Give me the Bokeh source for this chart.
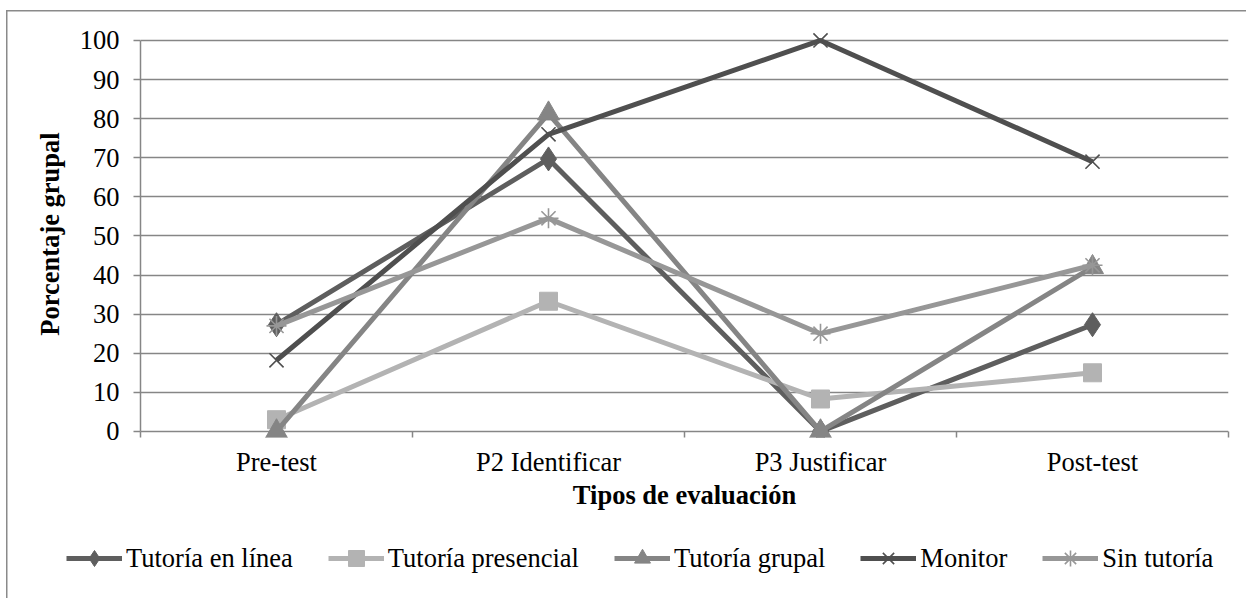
from bokeh.plotting import figure
from bokeh.layouts import column
from bokeh.models import FixedTicker, Legend, LegendItem, Range1d
from bokeh.embed import file_html
from bokeh.resources import INLINE

categories = ["Pre-test", "P2 Identificar", "P3 Justificar", "Post-test"]
tutoria_en_linea = [27.3, 69.7, 0, 27.3]
tutoria_presencial = [3.0, 33.3, 8.3, 15.0]
tutoria_grupal = [0, 81.3, 0, 42.0]
monitor = [18.2, 76.0, 100, 69.0]
sin_tutoria = [27.0, 54.5, 25.0, 42.5]
y_ticks = [0, 10, 20, 30, 40, 50, 60, 70, 80, 90, 100]

series = [
    ("Tutoría en línea", tutoria_en_linea, "#5e5e5e", "diamond", 24),
    ("Tutoría presencial", tutoria_presencial, "#b3b3b3", "square", 18),
    ("Tutoría grupal", tutoria_grupal, "#858585", "triangle", 22),
    ("Monitor", monitor, "#4f4f4f", "x", 20),
    ("Sin tutoría", sin_tutoria, "#979797", "asterisk", 20),
]

FONT = "Liberation Serif"
FS = "26.5px"
W = 1246

p = figure(width=W, height=518, output_backend="svg", toolbar_location=None,
           x_range=Range1d(0, len(categories)), y_range=Range1d(-1.55, 102.55),
           min_border_left=140, min_border_right=18, min_border_top=30,
           min_border_bottom=81)
p.frame_align = False
p.background_fill_color = "white"
p.border_fill_color = None
p.outline_line_color = None

xs = [i + 0.5 for i in range(len(categories))]


def draw(fig, xv, yv, color, marker, size):
    r1 = fig.line(xv, yv, line_color=color, line_width=5)
    if marker in ("x", "asterisk"):
        r2 = fig.scatter(xv, yv, marker=marker, size=size, line_color=color, line_width=1.6)
    else:
        r2 = fig.scatter(xv, yv, marker=marker, size=size, fill_color=color, line_color=color)
    return r1, r2


for name, vals, color, marker, size in series:
    draw(p, xs, vals, color, marker, size)

# x axis: the zero grid line acts as its line; boundary ticks reach down from it
p.xaxis.ticker = FixedTicker(ticks=xs, minor_ticks=list(range(len(categories) + 1)))
p.xaxis.major_label_overrides = {x: c for x, c in zip(xs, categories)}
p.xaxis.major_tick_line_color = None
p.xaxis.minor_tick_line_color = "#868686"
p.xaxis.minor_tick_line_width = 1.5
p.xaxis.minor_tick_out = 0
p.xaxis.minor_tick_in = 6
p.xaxis.axis_line_color = None
p.xaxis.major_label_standoff = 3
p.xaxis.major_label_text_font = FONT
p.xaxis.major_label_text_font_size = FS
p.xaxis.major_label_text_color = "black"
p.xaxis.axis_label = "Tipos de evaluación"
p.xaxis.axis_label_text_font = FONT
p.xaxis.axis_label_text_font_size = FS
p.xaxis.axis_label_text_font_style = "bold"
p.xaxis.axis_label_text_color = "black"
p.xaxis.axis_label_standoff = 0

# y axis
p.yaxis.bounds = (0, 100)
p.yaxis.ticker = FixedTicker(ticks=y_ticks)
p.yaxis.minor_tick_line_color = None
p.yaxis.major_tick_line_color = "#868686"
p.yaxis.major_tick_line_width = 1.5
p.yaxis.major_tick_out = 7
p.yaxis.major_tick_in = 0
p.yaxis.axis_line_color = "#868686"
p.yaxis.axis_line_width = 1.5
p.yaxis.major_label_standoff = 14
p.yaxis.major_label_text_font = FONT
p.yaxis.major_label_text_font_size = FS
p.yaxis.major_label_text_color = "black"
p.yaxis.axis_label = "Porcentaje grupal"
p.yaxis.axis_label_text_font = FONT
p.yaxis.axis_label_text_font_size = FS
p.yaxis.axis_label_text_font_style = "bold"
p.yaxis.axis_label_text_color = "black"
p.yaxis.axis_label_standoff = 12

p.xgrid.grid_line_color = None
p.ygrid.ticker = FixedTicker(ticks=y_ticks)
p.ygrid.grid_line_color = "#868686"
p.ygrid.grid_line_width = 1.5

# legend strip (its series renderers fall outside its own view range)
lg = figure(width=W, height=80, output_backend="svg", toolbar_location=None,
            x_range=Range1d(100, 101), y_range=Range1d(100, 101),
            min_border_left=0, min_border_right=0, min_border_top=0,
            min_border_bottom=0)
lg.frame_align = False
lg.axis.visible = False
lg.grid.grid_line_color = None
lg.outline_line_color = None
lg.background_fill_color = None
lg.border_fill_color = None

items = []
for name, vals, color, marker, size in series:
    r1, r2 = draw(lg, xs, vals, color, marker, size)
    items.append(LegendItem(label=name, renderers=[r1, r2]))

legend = Legend(items=items, orientation="horizontal", location=(66, 20),
                label_text_font=FONT, label_text_font_size=FS,
                label_text_color="black", glyph_width=56, glyph_height=40,
                label_standoff=4, spacing=35, padding=0, margin=0,
                border_line_color=None, background_fill_alpha=0)
lg.add_layout(legend, "center")

layout = column(p, lg, spacing=0)
layout.styles = {
    "background-color": "white",
    "background-image": "linear-gradient(#8a8a8a, #8a8a8a), linear-gradient(#8a8a8a, #8a8a8a)",
    "background-size": "1.5px 100%, 100% 1.5px",
    "background-position": "6px 10px, 6px 10px",
    "background-repeat": "no-repeat",
}

open("out.html", "w").write(file_html(layout, INLINE))
